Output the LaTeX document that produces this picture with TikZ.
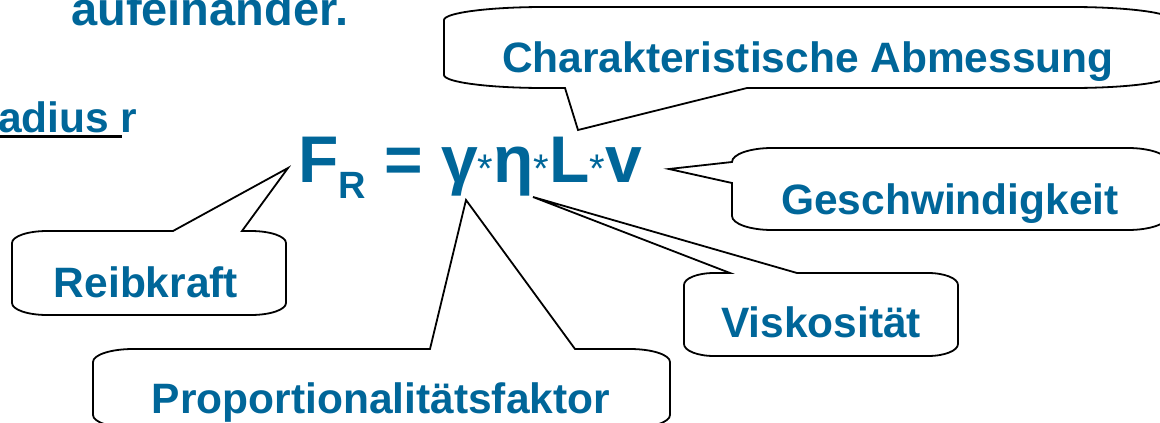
\documentclass[tikz,border=0pt]{standalone}
\usepackage{fontspec}
\setmainfont{Liberation Sans}
\definecolor{txtblue}{HTML}{006699}
\begin{document}
\begin{tikzpicture}[x=1pt,y=-1pt,
  bubble/.style={draw=black, line width=1.8pt, fill=white, line join=miter},
  lbl/.style={text=txtblue, font=\fontsize{42.5}{48}\selectfont\bfseries, inner sep=0pt, anchor=base},
  eqn/.style={text=txtblue, font=\fontsize{66}{70}\selectfont\bfseries, inner sep=0pt, anchor=base west},
]
\newcommand{\mul}{{\fontsize{40}{44}\selectfont\mdseries *}}
\useasboundingbox (0,0) rectangle (1160,423);
\clip (0,0) rectangle (1160,423);

% slide text around the formula
\node[lbl, anchor=base west, font=\fontsize{47}{52}\selectfont\bfseries] (auf) at (71,25) {aufeinander.};
\node[lbl, anchor=base west] (rad) at (-2,132) {adius r};
\draw[line width=3pt] (0,136) -- (122,136);

% the formula
\node[eqn] (formel) at (298,182)
  {F\raisebox{-16pt}{\fontsize{38}{40}\selectfont R} = γ\mul η\mul L\mul v};

% tips of the callout wedges
\coordinate (tipReib) at (288,168);
\coordinate (tipProp) at (466,200);
\coordinate (tipVisk) at (533,197);
\coordinate (tipGesch) at (669,169);
\coordinate (tipChar) at (578,130);

% Charakteristische Abmessung
\draw[bubble] (444,20) arc[start angle=180, end angle=270, x radius=100, y radius=13]
  -- (1072,7) arc[start angle=270, end angle=360, x radius=100, y radius=13]
  -- (1172,75) arc[start angle=0, end angle=90, x radius=100, y radius=13]
  -- (747,88) -- (tipChar) -- (565,88)
  -- (544,88) arc[start angle=90, end angle=180, x radius=100, y radius=13]
  -- cycle;
\node[lbl] (char) at (808,72) {Charakteristische Abmessung};

% Geschwindigkeit
\draw[bubble] (732,183) -- (tipGesch) -- (732,162)
  arc[start angle=180, end angle=270, x radius=40, y radius=14]
  -- (1128,148) arc[start angle=270, end angle=360, x radius=40, y radius=14]
  -- (1168,216) arc[start angle=0, end angle=90, x radius=40, y radius=14]
  -- (772,230) arc[start angle=90, end angle=180, x radius=40, y radius=14]
  -- cycle;
\node[lbl] (gesch) at (950,214) {Geschwindigkeit};

% Viskositaet
\draw[bubble] (684,285) arc[start angle=180, end angle=270, x radius=30, y radius=12]
  -- (730,273) -- (tipVisk) -- (797,273)
  -- (928,273) arc[start angle=270, end angle=360, x radius=30, y radius=12]
  -- (958,344) arc[start angle=0, end angle=90, x radius=30, y radius=12]
  -- (714,356) arc[start angle=90, end angle=180, x radius=30, y radius=12]
  -- cycle;
\node[lbl] (visk) at (821,337) {Viskosität};

% Reibkraft
\draw[bubble] (12,243) arc[start angle=180, end angle=270, x radius=35, y radius=12]
  -- (173,231) -- (tipReib) -- (242,231)
  -- (251,231) arc[start angle=270, end angle=360, x radius=35, y radius=12]
  -- (286,303) arc[start angle=0, end angle=90, x radius=35, y radius=12]
  -- (47,315) arc[start angle=90, end angle=180, x radius=35, y radius=12]
  -- cycle;
\node[lbl] (reib) at (146,297) {Reibkraft};

% Proportionalitaetsfaktor
\draw[bubble] (93,362) arc[start angle=180, end angle=270, x radius=40, y radius=13]
  -- (430,349) -- (tipProp) -- (575,349)
  -- (630,349) arc[start angle=270, end angle=360, x radius=40, y radius=13]
  -- (670,415) arc[start angle=0, end angle=90, x radius=40, y radius=13]
  -- (133,428) arc[start angle=90, end angle=180, x radius=40, y radius=13]
  -- cycle;
\node[lbl] (prop) at (381,413) {Proportionalitätsfaktor};
\end{tikzpicture}
\end{document}
